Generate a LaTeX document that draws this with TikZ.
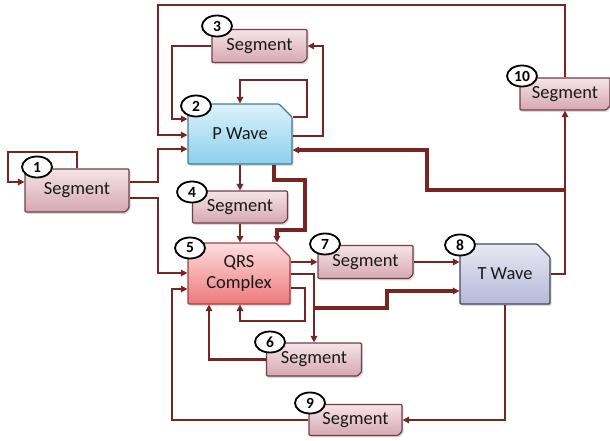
\documentclass[tikz,border=0pt]{standalone}
\usepackage{fontspec}
\setmainfont{Carlito}
\usetikzlibrary{shapes.misc,shapes.geometric,shadows,arrows.meta}
\definecolor{lnc}{RGB}{118,38,32}
\definecolor{segt}{RGB}{244,228,232}
\definecolor{segb}{RGB}{214,168,178}
\definecolor{segd}{RGB}{112,62,74}
\definecolor{pwt}{RGB}{220,242,251}
\definecolor{pwb}{RGB}{140,208,236}
\definecolor{pwd}{RGB}{70,125,150}
\definecolor{qt}{RGB}{253,222,222}
\definecolor{qb}{RGB}{238,120,122}
\definecolor{qd}{RGB}{160,64,64}
\definecolor{tt}{RGB}{232,233,244}
\definecolor{tb}{RGB}{180,184,214}
\definecolor{td}{RGB}{66,72,98}
\begin{document}
\begin{tikzpicture}[x=1pt,y=-1pt,
  box/.style={chamfered rectangle, inner sep=0pt, align=center,
    font=\fontsize{18.5}{21}\selectfont, text=black!90, line width=1.2pt,
    rounded corners=1pt,
    drop shadow={shadow xshift=1.5pt,shadow yshift=-1.8pt,opacity=0.3}},
  segbox/.style={box, chamfered rectangle corners=south east,
    chamfered rectangle xsep=2pt, chamfered rectangle ysep=2pt,
    minimum width=95pt, minimum height=33pt,
    draw=segd, top color=segt, bottom color=segb},
  wavebox/.style={box, chamfered rectangle corners=north east,
    chamfered rectangle xsep=7pt, chamfered rectangle ysep=7pt,
    minimum height=60pt},
  num/.style={ellipse, draw=black, line width=1.8pt, fill=white,
    minimum width=30pt, minimum height=21pt, inner sep=0pt,
    font=\fontsize{15.5}{15.5}\bfseries\selectfont},
  conn/.style={draw=lnc, line width=2.2pt, -{Triangle[length=6.5pt,width=6.5pt]}},
  heavy/.style={line width=3.5pt}
]
\useasboundingbox (0,0) rectangle (610,441);

% boxes
\node[segbox, minimum width=104pt, minimum height=43pt] (s1) at (77,190.5) {Segment};
\node[segbox] (s3) at (259.5,46) {Segment};
\node[wavebox, minimum width=104pt, draw=pwd, top color=pwt, bottom color=pwb] (pw) at (240,134) {P Wave};
\node[segbox, minimum height=32pt] (s4) at (240,207) {Segment};
\node[wavebox, minimum width=102pt, minimum height=61pt, draw=qd, top color=qt, bottom color=qb] (qrs) at (239,273.5) {QRS\\Complex};
\node[segbox] (s7) at (365.5,262) {Segment};
\node[wavebox, minimum width=90pt, draw=td, top color=tt, bottom color=tb] (tw) at (505,274) {T Wave};
\node[segbox] (s6) at (314,359.5) {Segment};
\node[segbox, minimum width=93pt, minimum height=31pt] (s9) at (355.5,420) {Segment};
\node[segbox, minimum width=90pt, minimum height=32pt] (s10) at (565,94) {Segment};

% connectors
\draw[conn] (s1.north) -- (77,152) -| (8,182) -- (s1.west |- 0,182);
\draw[conn] (s1.east |- 0,182) -| (158,149) -- (pw.west |- 0,149);
\draw[conn] (s1.east |- 0,198) -| (158,273) -- (qrs.west |- 0,273);
\draw[conn] (s10.north) -- (s10.north |- 0,5) -| (158,135) -- (pw.west |- 0,135);
\draw[conn] (s3.west) -| (172,119) -- (pw.west |- 0,119);
\draw[conn] (pw.east |- 0,136) -| (323,46) -- (s3.east);
\draw[conn] (pw.east |- 0,117) -| (307,80) -| (pw.north);
\draw[conn] (pw.south) -- (s4.north);
\draw[conn] (s4.south) -- (s4.south |- qrs.north);
\draw[conn, heavy] (pw.south -| 274,0) -- (274,180) -| (305,230) -| (qrs.north -| 277,0);
\draw[conn, heavy] (s10.south |- 0,190) -| (427,150) -- (pw.east |- 0,150);
\draw[conn] (tw.east) -| (s10.south);
\draw[conn] (qrs.east |- s7.west) -- (s7.west);
\draw[conn] (s7.east) -- (tw.west |- s7.east);
\draw[conn] (qrs.east |- 0,274) -| (s6.north);
\draw[conn] (qrs.east |- 0,288) -| (305,321) -| (qrs.south -| 240,0);
\draw[conn, heavy] (s6.north |- 0,308) -| (387,291) -- (tw.west |- 0,291);
\draw[conn] (s6.west) -| (qrs.south -| 209,0);
\draw[conn] (tw.south) |- (s9.east);
\draw[conn] (s9.west) -| (172,289) -- (qrs.west |- 0,289);

% number badges
\node[num] (n1) at (37,167) {1};
\node[num] (n2) at (196,106) {2};
\node[num] (n3) at (217,26) {3};
\node[num] (n4) at (192,192) {4};
\node[num] (n5) at (190,248) {5};
\node[num] (n6) at (270,342) {6};
\node[num] (n7) at (325,244) {7};
\node[num] (n8) at (460,245) {8};
\node[num] (n9) at (310,403) {9};
\node[num] (n10) at (522,76) {10};
\end{tikzpicture}
\end{document}
